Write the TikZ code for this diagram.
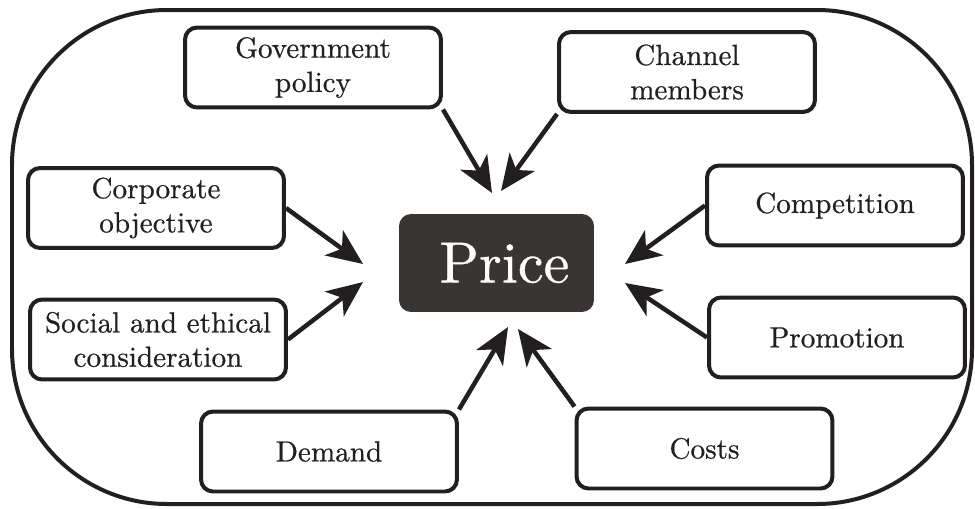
\documentclass[tikz,border=0pt]{standalone}
\usepackage{fontspec}
\setmainfont{lmroman10-regular}[Extension=.otf, UprightFeatures={FakeBold=0.6}]
\usetikzlibrary{arrows.meta}
\pgfdeclarelayer{bg}
\pgfsetlayers{bg,main}
\definecolor{ink}{HTML}{231F20}
\definecolor{pricefill}{HTML}{383533}
\begin{document}
\begin{tikzpicture}[x=0.02cm,y=-0.02cm,
  factor/.style={draw=ink, line width=0.08cm, fill=white, rounded corners=0.24cm,
    align=center, inner sep=0pt, minimum width=5.12cm, minimum height=1.6cm,
    font=\fontsize{16.6}{19.5}\selectfont, text=ink},
  pricebox/.style={fill=pricefill, rounded corners=0.24cm, inner sep=0pt,
    minimum width=3.9cm, minimum height=1.96cm, text=white,
    font=\fontsize{33}{40}\selectfont},
  link/.style={draw=ink, line width=0.09cm, -{Stealth[length=0.72cm,width=0.62cm,inset=0.2cm]}},
  frame/.style={draw=ink, line width=0.08cm, rounded corners=3.1cm}
]
\useasboundingbox (0,0) rectangle (975,508);
\draw[frame] (12,10) rectangle (972,504);

\node[pricebox] (price) at (496.5,263) {\hspace*{0.32cm}Price};

\node[factor] (gov)    at (313,67.5)  {Government\\policy};
\node[factor] (chan)   at (687,72)    {Channel\\members};
\node[factor] (corp)   at (156,208)   {Corporate\\objective};
\node[factor] (comp)   at (835,205.5) {\raisebox{-3pt}{Competition}};
\node[factor] (soc)    at (158,339.5) {Social and ethical\\consideration};
\node[factor] (promo)  at (837,337.5) {Promotion};
\node[factor] (demand) at (329,451.5) {Demand};
\node[factor] (costs)  at (704.5,448.5) {Costs};

\coordinate (tgov)    at (492,193);
\coordinate (tchan)   at (501,191);
\coordinate (tcorp)   at (363,264);
\coordinate (tsoc)    at (363,282);
\coordinate (tcomp)   at (625,264);
\coordinate (tpromo)  at (625,283);
\coordinate (tdemand) at (508,327);
\coordinate (tcosts)  at (518,329);

\begin{pgfonlayer}{bg}
\draw[link] (gov.south east)    -- (tgov);
\draw[link] (chan.south west)   -- (tchan);
\draw[link] (corp.east)         -- (tcorp);
\draw[link] (soc.east)          -- (tsoc);
\draw[link] (comp.west)         -- (tcomp);
\draw[link] (promo.west)        -- (tpromo);
\draw[link] (demand.north east) -- (tdemand);
\draw[link] (costs.north west)  -- (tcosts);
\end{pgfonlayer}
\end{tikzpicture}
\end{document}
